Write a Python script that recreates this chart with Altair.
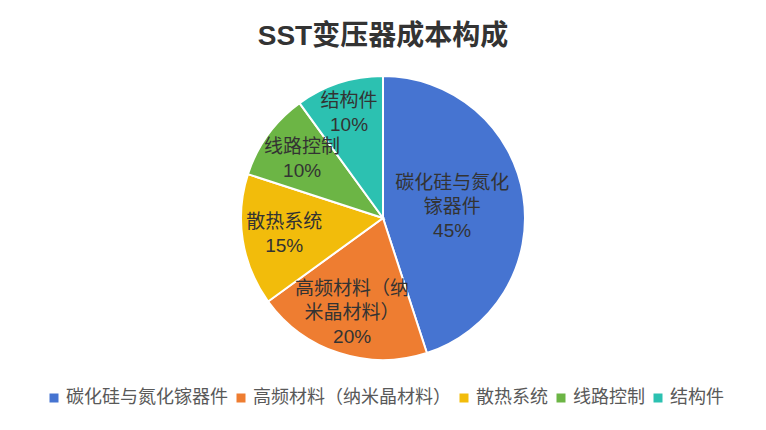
import altair as alt
import pandas as pd

title_text = "SST变压器成本构成"
categories = ["碳化硅与氮化镓器件", "高频材料（纳米晶材料）", "散热系统", "线路控制", "结构件"]
label_lines = ["碳化硅与氮化\n镓器件", "高频材料（纳\n米晶材料）", "散热系统", "线路控制", "结构件"]
shares = [45, 20, 15, 10, 10]
colors = ["#4674D1", "#EE7D31", "#F2BC0B", "#6CB545", "#2CC1B1"]

df = pd.DataFrame({
    "category": categories,
    "label": label_lines,
    "share": shares,
    "order": list(range(len(categories))),
})
df["text"] = df["label"] + "\n" + df["share"].astype(str) + "%"

FONT = "Liberation Sans, Noto Sans CJK SC"
LH = 24

pie = alt.Chart(df).mark_arc(outerRadius=142, stroke="white", strokeWidth=2).encode(
    theta=alt.Theta("share:Q", stack=True),
    order=alt.Order("order:Q"),
    color=alt.Color(
        "category:N",
        scale=alt.Scale(domain=categories, range=colors),
        sort=categories,
        legend=alt.Legend(
            title=None,
            orient="none",
            legendX=37,
            legendY=381,
            direction="horizontal",
            symbolType="square",
            symbolSize=81,
            symbolStrokeWidth=0,
            labelFontSize=18,
            labelFont=FONT,
            labelColor="#595959",
            labelLimit=400,
            columnPadding=4,
            labelOffset=3,
            padding=0,
        ),
    ),
)

label_base = alt.Chart(df).transform_window(
    cum="sum(share)", sort=[alt.SortField("order")], frame=[None, 0]
).transform_calculate(
    mid="datum.cum - datum.share / 2",
    lr="datum.share >= 40 ? 70 : (datum.cum >= 100 ? 110 : 100)",
    nl="split(datum.text, '\\n').length",
).encode(
    theta=alt.Theta("mid:Q", stack=None),
    radius=alt.Radius("lr:Q", scale=None),
    text="text:N",
)

text_style = dict(
    font=FONT, fontSize=19, lineHeight=LH, lineBreak="\n",
    color="#333333", align="center", baseline="middle",
)

labels3 = label_base.transform_filter("datum.nl == 3").mark_text(dy=-LH, **text_style)
labels2 = label_base.transform_filter("datum.nl == 2").mark_text(dy=-LH / 2, **text_style)

title = alt.Chart(pd.DataFrame({"t": [title_text]})).mark_text(
    x=375, y=37, fontSize=28, fontWeight="bold", font=FONT,
    color="#333333", align="center", baseline="alphabetic",
).encode(text="t:N")

chart = alt.layer(pie, labels3, labels2, title).properties(
    width=750, height=420,
    autosize=alt.AutoSizeParams(type="none"),
    padding=0,
    background="white",
).configure_view(stroke=None)

chart.save("out.html", embed_options={"renderer": "svg", "actions": False})
